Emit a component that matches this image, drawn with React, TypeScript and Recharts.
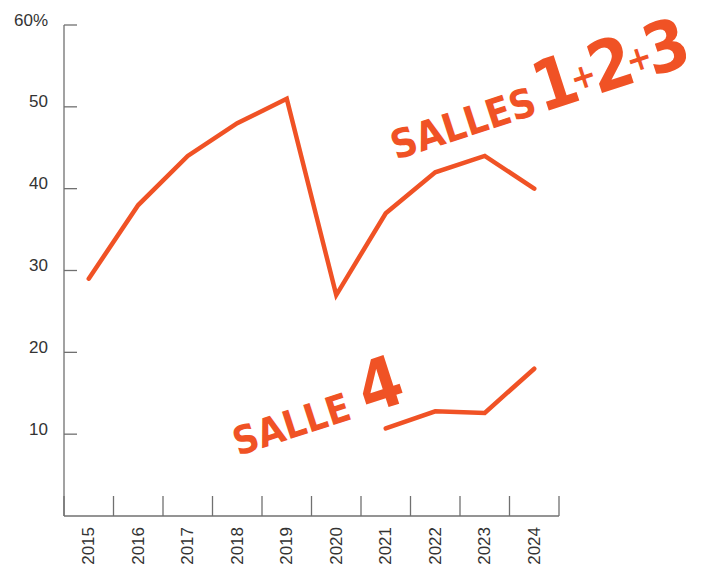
import React from 'react';
import { LineChart, Line, XAxis, YAxis } from 'recharts';

const YEARS = ['2015', '2016', '2017', '2018', '2019', '2020', '2021', '2022', '2023', '2024'];
const SALLES_123 = [29, 38, 44, 48, 51, 27, 37, 42, 44, 40];
const SALLE_4 = [null, null, null, null, null, null, 10.7, 12.8, 12.6, 18];
const Y_TICKS = [10, 20, 30, 40, 50, 60];

const data = YEARS.map((year, i) => ({
  year,
  salles123: SALLES_123[i],
  salle4: SALLE_4[i],
}));

const ORANGE = '#F05225';
const AXIS = '#707070';
const TEXT = '#333333';
const FONT = '"Liberation Sans", Arial, sans-serif';
const LABEL_FONT = '"DejaVu Sans Condensed", "DejaVu Sans", sans-serif';

// plot area: x 64..559, y 25..516
const WIDTH = 705;
const HEIGHT = 568;
const BAND = (559 - 64) / YEARS.length;

const YTick = ({ x, y, payload }: any) => (
  <g>
    <line x1={x + 16} x2={x + 29} y1={y} y2={y} stroke={AXIS} strokeWidth={1.3} />
    <text
      x={x}
      y={y - 5}
      textAnchor="end"
      dominantBaseline="central"
      fontSize={17}
      fontFamily={FONT}
      fill={TEXT}
    >
      {payload.value === 60 ? '60%' : payload.value}
    </text>
  </g>
);

const XTick = ({ x, y, payload }: any) => {
  const isLast = payload.value === YEARS[YEARS.length - 1];
  return (
    <g>
      <line x1={x - BAND / 2} x2={x - BAND / 2} y1={y - 11} y2={y - 31} stroke={AXIS} strokeWidth={1.3} />
      {isLast && (
        <line x1={x + BAND / 2} x2={x + BAND / 2} y1={y - 11} y2={y - 31} stroke={AXIS} strokeWidth={1.3} />
      )}
      <text
        x={x}
        y={y}
        transform={`rotate(-90, ${x}, ${y})`}
        textAnchor="end"
        dominantBaseline="central"
        fontSize={17}
        fontFamily={FONT}
        fill={TEXT}
      >
        {payload.value}
      </text>
    </g>
  );
};

export default function App() {
  return (
    <div style={{ position: 'absolute', left: 0, top: 0, width: WIDTH, height: HEIGHT, background: '#fff' }}>
      <LineChart
        width={WIDTH}
        height={HEIGHT}
        data={data}
        margin={{ top: 25, right: WIDTH - 559, bottom: 0, left: 0 }}
      >
        <XAxis
          dataKey="year"
          height={HEIGHT - 516}
          padding={{ left: BAND / 2, right: BAND / 2 }}
          interval={0}
          tickLine={false}
          tickSize={0}
          tickMargin={11}
          axisLine={{ stroke: AXIS, strokeWidth: 1.3 }}
          tick={<XTick />}
        />
        <YAxis
          width={64}
          domain={[0, 60]}
          ticks={Y_TICKS}
          interval={0}
          tickLine={false}
          tickSize={0}
          tickMargin={16}
          axisLine={{ stroke: AXIS, strokeWidth: 1.3 }}
          tick={<YTick />}
        />
        <Line
          dataKey="salles123"
          stroke={ORANGE}
          strokeWidth={4.5}
          strokeLinecap="round"
          dot={false}
          isAnimationActive={false}
        />
        <Line
          dataKey="salle4"
          stroke={ORANGE}
          strokeWidth={4.5}
          strokeLinecap="round"
          dot={false}
          connectNulls={false}
          isAnimationActive={false}
        />
      </LineChart>
      <svg
        width={WIDTH}
        height={HEIGHT}
        style={{ position: 'absolute', left: 0, top: 0, pointerEvents: 'none' }}
      >
        <text
          x={396}
          y={160}
          transform="rotate(-18 396 160)"
          fontFamily={LABEL_FONT}
          fontWeight="bold"
          fill={ORANGE}
        >
          <tspan fontSize={40}>SALLES</tspan>
          <tspan fontSize={70} dx={3}>1</tspan>
          <tspan fontSize={34} dx={-6} dy={-10}>+</tspan>
          <tspan fontSize={70} dx={-5} dy={10}>2</tspan>
          <tspan fontSize={34} dx={-6} dy={-10}>+</tspan>
          <tspan fontSize={70} dx={-5} dy={10}>3</tspan>
        </text>
        <text
          x={238}
          y={456}
          transform="rotate(-18 238 456)"
          fontFamily={LABEL_FONT}
          fontWeight="bold"
          fill={ORANGE}
        >
          <tspan fontSize={39}>SALLE</tspan>
          <tspan fontSize={70} dx={14}>4</tspan>
        </text>
      </svg>
    </div>
  );
}
